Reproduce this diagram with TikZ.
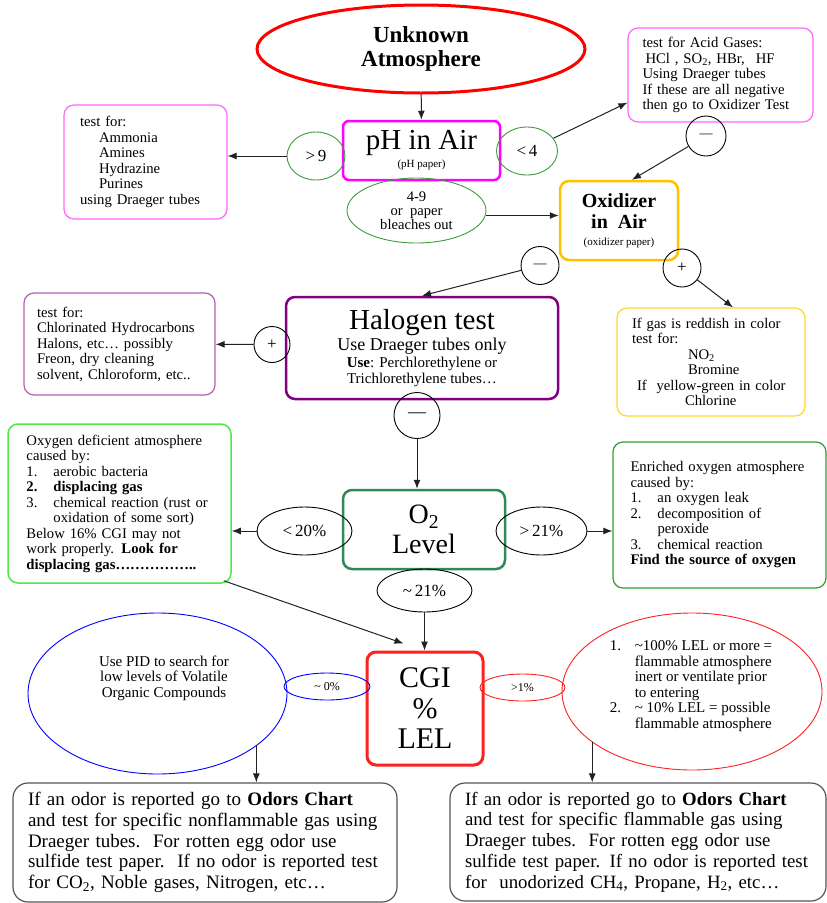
\documentclass[tikz,border=0pt]{standalone}
\usepackage{fontspec}
\setmainfont{Liberation Serif}
\usetikzlibrary{shapes.geometric,arrows.meta}

\definecolor{phpink}{HTML}{FF00FF}
\definecolor{phlight}{HTML}{FF66FF}
\definecolor{taggreen}{HTML}{3C9C3C}
\definecolor{oxgold}{HTML}{FFC000}
\definecolor{oxlight}{HTML}{FFD633}
\definecolor{halpurple}{HTML}{800080}
\definecolor{hallight}{HTML}{B060B0}
\definecolor{otwogreen}{HTML}{2E8B57}
\definecolor{deficgreen}{HTML}{4DE84D}
\definecolor{richgreen}{HTML}{2E9E2E}
\definecolor{lelred}{HTML}{FF2020}
\definecolor{odorgray}{HTML}{555555}
\definecolor{arrowgray}{HTML}{222222}

\begin{document}
\begin{tikzpicture}[x=1pt,y=-1pt]

      \useasboundingbox (0,0) rectangle (827,903);

      \begin{scope}[every node/.style={draw,rounded corners=9pt,align=center}]
        \node[ellipse,draw=red,line width=3pt,minimum width=328pt,minimum height=88pt,
              font=\bfseries\fontsize{23}{24}\selectfont] (1) at (421,49) {Unknown\\Atmosphere};
        \node[draw=phpink,line width=2.5pt,rounded corners=6pt,minimum width=157pt,minimum height=59pt,
              font=\fontsize{29}{30}\selectfont] (2) at (421.5,150.5) {pH in Air\\[-12pt]{\fontsize{11}{12}\selectfont (pH paper)}};
        \node[draw=oxgold,line width=2.5pt,minimum width=118pt,minimum height=79pt,
              font=\bfseries\fontsize{20}{21}\selectfont] (9) at (619,220.5) {Oxidizer\\in\ \ Air\\[-4pt]{\normalfont\fontsize{11}{12}\selectfont (oxidizer paper)}};
        \node[draw=halpurple,line width=2.5pt,minimum width=272pt,minimum height=102pt,
              font=\fontsize{15}{16.5}\selectfont] (13) at (422,348) {{\fontsize{29}{30}\selectfont Halogen test}\\[2pt]{\fontsize{18}{18}\selectfont Use Draeger tubes only}\\\textbf{Use}: Perchlorethylene or\\Trichlorethylene tubes\ldots};
        \node[draw=otwogreen,line width=2.5pt,minimum width=162pt,minimum height=79pt,
              font=\fontsize{28}{30}\selectfont] (17) at (424,529.5) {O\textsubscript{2}\\Level};
        \node[draw=lelred,line width=3pt,minimum width=116pt,minimum height=113pt,
              font=\fontsize{30}{30.5}\selectfont] (23) at (425,708.5) {CGI\\\%\\LEL};
      \end{scope}

      \begin{scope}[every node/.style={draw,rounded corners=10pt,align=left,font=\fontsize{14.7}{15.5}\selectfont}]
        \node[draw=phlight,line width=1.2pt,minimum width=163pt,minimum height=114pt,text width=131pt]
              (4) at (145.5,162) {test for:\\\hspace*{19pt}Ammonia\\\hspace*{19pt}Amines\\\hspace*{19pt}Hydrazine\\\hspace*{19pt}Purines\\using Draeger tubes};
        \node[draw=phlight,line width=1.2pt,minimum width=185pt,minimum height=94pt,text width=156pt]
              (6) at (720.5,75) {test for Acid Gases:\\\hspace*{3pt}HCl , SO\textsubscript{2}, HBr,\hspace*{6pt} HF\\Using Draeger tubes\\If these are all negative\\then go to Oxidizer Test};
        \node[draw=oxlight,line width=1.2pt,minimum width=188pt,minimum height=108pt,text width=158pt]
              (12) at (711,362) {If gas is reddish in color\\test for:\\\hspace*{56pt}NO\textsubscript{2}\\\hspace*{56pt}Bromine\\\hspace*{5pt}If\ \ yellow-green in color\\\hspace*{53pt}Chlorine};
        \node[draw=hallight,line width=1.2pt,minimum width=191pt,minimum height=102pt,text width=165pt]
              (15) at (119.5,344) {test for:\\Chlorinated Hydrocarbons\\Halons, etc\ldots\ possibly\\Freon, dry cleaning\\solvent, Chloroform, etc..};
        \node[draw=deficgreen,line width=1.5pt,minimum width=223pt,minimum height=159pt,text width=186pt]
              (19) at (119.5,503.5) {Oxygen deficient atmosphere\\caused by:\\\makebox[27pt][l]{1.}aerobic bacteria\\\textbf{\makebox[27pt][l]{2.}displacing gas}\\\makebox[27pt][l]{3.}chemical reaction (rust or\\\hspace*{27pt}oxidation of some sort)\\Below 16\% CGI may not\\work properly. \textbf{Look for}\\\textbf{displacing gas\ldots\ldots\ldots\ldots\ldots..}};
        \node[draw=richgreen,line width=1.2pt,minimum width=213pt,minimum height=146pt,text width=178pt]
              (21) at (719.5,515) {Enriched oxygen atmosphere\\caused by:\\\makebox[27pt][l]{1.}an oxygen leak\\\makebox[27pt][l]{2.}decomposition of\\\hspace*{27pt}peroxide\\\makebox[27pt][l]{3.}chemical reaction\\\textbf{Find the source of oxygen}};
        \node[draw=odorgray,line width=1.2pt,rounded corners=15pt,minimum width=384pt,minimum height=119pt,text width=354pt,
              font=\fontsize{19}{20.7}\selectfont] (30) at (205,842.5) {If an odor is reported go to \textbf{Odors Chart}\\and test for specific nonflammable gas using\\Draeger tubes.\ \ For rotten egg odor use\\sulfide test paper.\ \ If no odor is reported test\\for CO\textsubscript{2}, Noble gases, Nitrogen, etc\ldots};
        \node[draw=odorgray,line width=1.2pt,rounded corners=15pt,minimum width=376pt,minimum height=118pt,text width=346pt,
              font=\fontsize{18.8}{20.7}\selectfont] (31) at (638,842) {If an odor is reported go to \textbf{Odors Chart}\\and test for specific flammable gas using\\Draeger tubes.\ \ For rotten egg odor use\\sulfide test paper. If no odor is reported test\\for\ \ unodorized CH\textsubscript{4}, Propane, H\textsubscript{2}, etc\ldots};
      \end{scope}

      \begin{scope}[every node/.style={ellipse,draw,line width=0.9pt,inner sep=0pt,align=center,font=\fontsize{17}{18}\selectfont}]
        \node[draw=taggreen] (3) at (316,156) [minimum width=58pt,minimum height=48pt] {>\,9};
        \node[draw=taggreen] (5) at (527,151) [minimum width=61pt,minimum height=48pt] {<\,4};
        \node[draw=taggreen,font=\fontsize{14.6}{14}\selectfont] (8) at (416.5,210.5) [minimum width=139pt,minimum height=65pt] {4-9\\or\ \ paper\\bleaches out};
        \node (18) at (304.5,531) [minimum width=95pt,minimum height=48pt] {<\,20\%};
        \node (20) at (541.5,531) [minimum width=91pt,minimum height=48pt] {>\,21\%};
        \node (22) at (424.5,590.5) [minimum width=95pt,minimum height=43pt] {\textasciitilde\,21\%};
        \node[draw=blue,font=\fontsize{12}{13}\selectfont] (24) at (327,686.5) [minimum width=86pt,minimum height=27pt] {\textasciitilde\ 0\%};
        \node[draw=lelred,font=\fontsize{12}{13}\selectfont] (27) at (522.5,687.5) [minimum width=85pt,minimum height=27pt] {>1\%};
        \node[draw=blue] (25) at (157.5,693.5) [minimum width=259pt,minimum height=161pt] {};
        \node[draw=lelred] (28) at (692,691.5) [minimum width=260pt,minimum height=157pt] {};
      \end{scope}

      \begin{scope}[every node/.style={align=left,font=\fontsize{15}{15.5}\selectfont}]
        \node[align=center] (26) at (164,678) {Use PID to search for\\low levels of Volatile\\Organic Compounds};
        \node (29) at (691,686) {\makebox[25pt][l]{1.}\textasciitilde100\% LEL or more =\\\hspace*{25pt}flammable atmosphere\\\hspace*{25pt}inert or ventilate prior\\\hspace*{25pt}to entering\\\makebox[25pt][l]{2.}\textasciitilde\ 10\% LEL = possible\\\hspace*{25pt}flammable atmosphere};
      \end{scope}

      \begin{scope}[every node/.style={circle,draw,line width=0.9pt,inner sep=0pt,font=\fontsize{17}{18}\selectfont}]
        \node (7)  at (706,136)   [minimum size=40pt] {\fontsize{13}{14}\selectfont\textemdash};
        \node (10) at (540,265.5) [minimum size=38pt] {\fontsize{13}{14}\selectfont\textemdash};
        \node (11) at (682,268)   [minimum size=38pt] {+};
        \node (14) at (272,344.5) [minimum size=36pt] {+};
        \node (16) at (417,415.5) [minimum size=46pt] {\fontsize{18}{19}\selectfont\textemdash};
      \end{scope}

      \begin{scope}[every edge/.style={draw=arrowgray,line width=1pt,-{Latex[length=9pt,width=7pt]}}]
        \path (1) edge (2);
        \path (3.west) edge (3.west -| 4.east);
        \path (5) edge ([yshift=20pt]6.south west);
        \path (7) edge ([xshift=13pt]9.north);
        \path ([yshift=-5pt]8.east) edge ([yshift=-5pt]8.east -| 9.west);
        \path (10) edge (13.north);
        \path (11) edge ([xshift=22pt]12.north);
        \path (14) edge (15);
        \path (16) edge (16 |- 17.north);
        \path (18.west) edge (18.west -| 19.east);
        \path (20.east) edge (20.east -| 21.west);
        \path (22) edge (22 |- 23.north);
        \path ([xshift=-8pt,yshift=3pt]19.south east) edge ([xshift=38pt,yshift=7pt]23.north west);
        \path (25.-28) edge (25.-28 |- 30.north);
        \path (28.-153) edge (28.-153 |- 31.north);
      \end{scope}

    \end{tikzpicture}
\end{document}
